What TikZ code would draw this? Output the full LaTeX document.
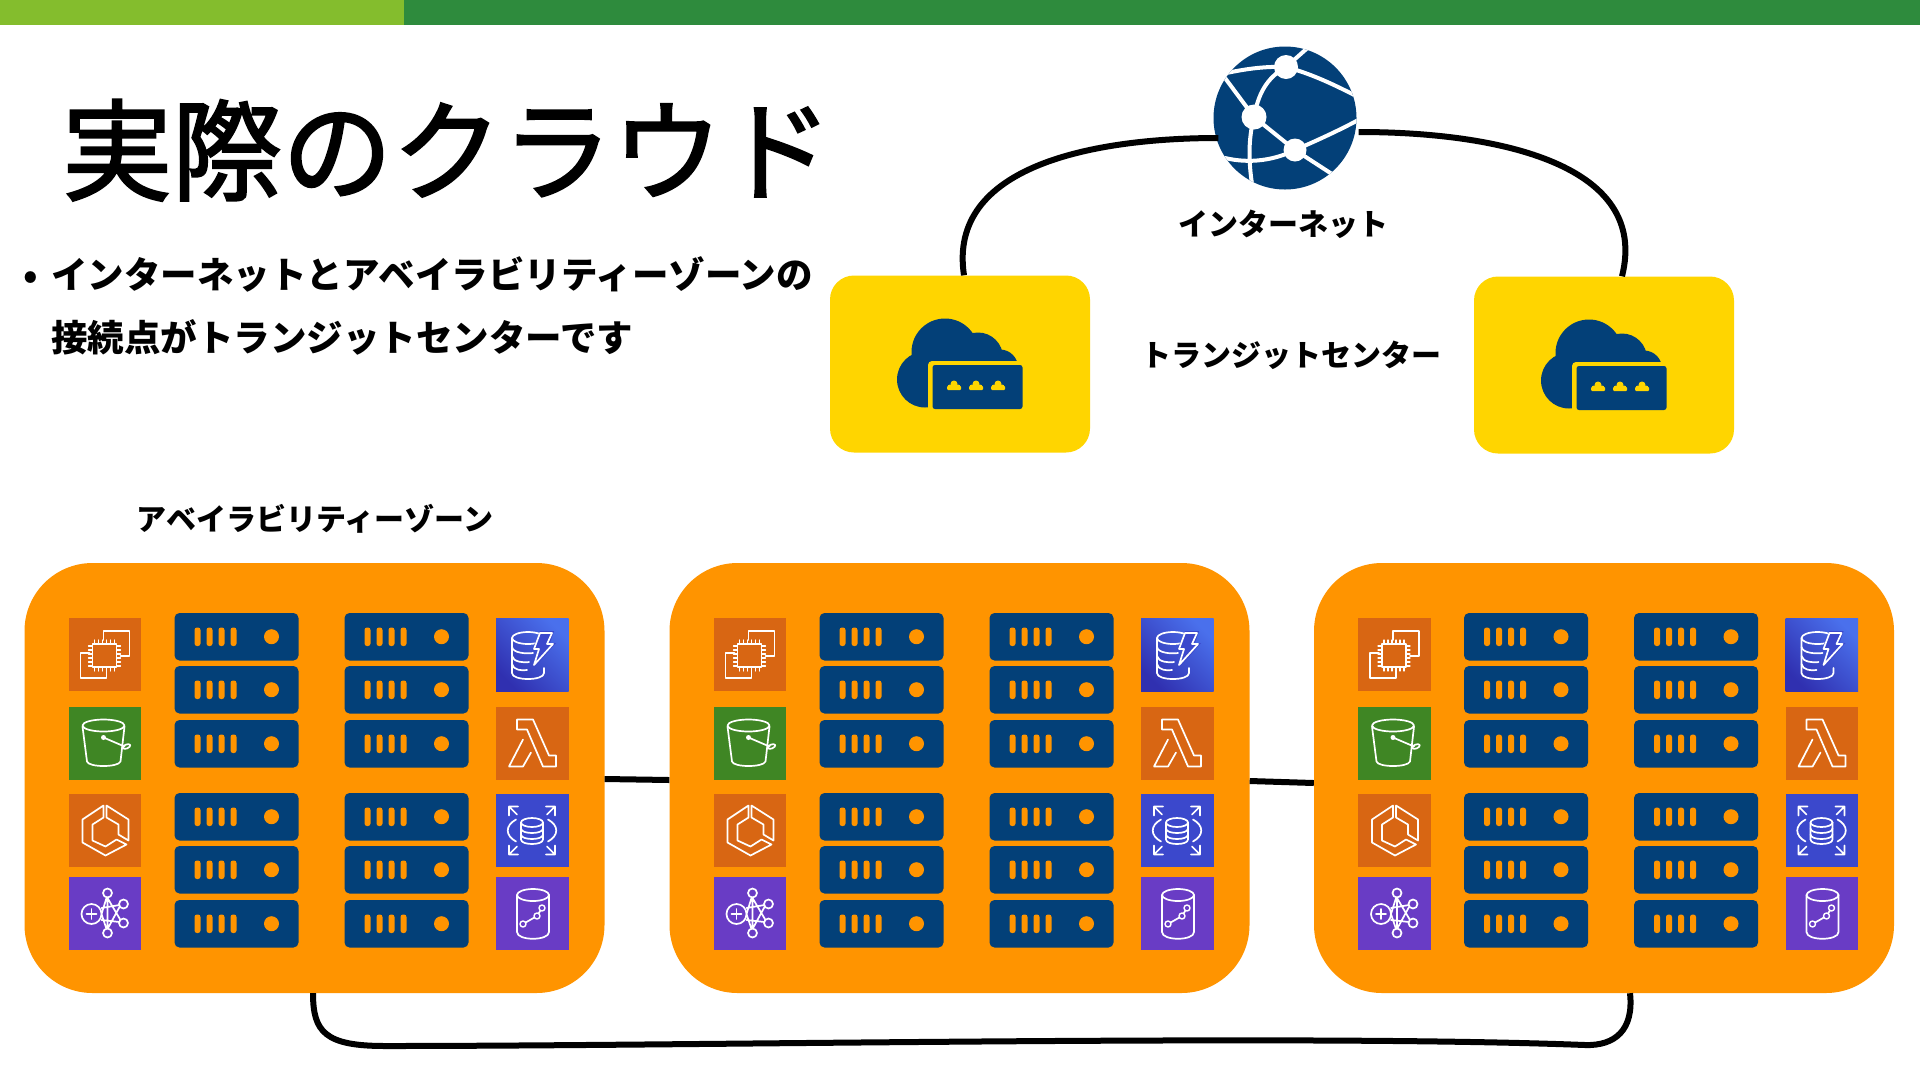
\documentclass[tikz,border=0pt]{standalone}
\usepackage{fontspec}
\usetikzlibrary{calc}
\newfontfamily\jp{Noto Sans CJK JP}
\newfontfamily\jptitle{Noto Sans CJK JP}[FakeBold=2]
\definecolor{navy}{HTML}{034078}
\definecolor{zonecol}{HTML}{FF9400}
\definecolor{goldcol}{HTML}{FFD500}
\definecolor{limebar}{HTML}{84BD2D}
\definecolor{greenbar}{HTML}{2E8B3D}
\definecolor{awsorange}{HTML}{D86613}
\definecolor{awsgreen}{HTML}{3F8624}
\definecolor{awspurple}{HTML}{693CC5}
\definecolor{awsblue}{HTML}{3B48CC}
\definecolor{dynlo}{HTML}{3030B0}
\definecolor{dynhi}{HTML}{4A70EC}
\tikzset{
  wire/.style={draw=black,line width=6pt,line cap=butt},
  zonebox/.style={fill=zonecol,draw=none,rounded corners=68pt,minimum width=580pt,minimum height=430pt,inner sep=0pt},
  tcbox/.style={fill=goldcol,draw=none,rounded corners=24pt,minimum width=260pt,minimum height=177pt,inner sep=0pt},
  lbl/.style={anchor=base,inner sep=0pt,font=\jp\bfseries\fontsize{30pt}{30pt}\selectfont},
  ic/.style={draw=white,line width=1.7pt,line join=round,line cap=round,fill=none},
  pics/srv/.style={code={
    \fill[navy,rounded corners=5pt] (0,0) rectangle (124,47.5);
    \foreach \bx in {23,35,47,59}{\fill[zonecol,rounded corners=2.5pt] (\bx-3,14.5) rectangle (\bx+3,33);}
    \fill[zonecol] (97,23.7) circle (7.5pt);
  }},
  pics/ectwo/.style={code={
    \fill[awsorange] (0,0) rectangle (72.5,73);
    \draw[ic] (35,22)--(35,13)--(61,13)--(61,38)--(52,38);
    \draw[ic] (21,35)--(12,35)--(12,60)--(38,60)--(38,52);
    \draw[ic] (24,26) rectangle (48,49);
    \foreach \t in {0,...,5}{
      \draw[ic,line width=1.2pt] (26+\t*4,22)--(26+\t*4,26);
      \draw[ic,line width=1.2pt] (26+\t*4,49)--(26+\t*4,53);
      \draw[ic,line width=1.2pt] (20,28+\t*4)--(24,28+\t*4);
      \draw[ic,line width=1.2pt] (48,28+\t*4)--(52,28+\t*4);
    }
  }},
  pics/sthree/.style={code={
    \fill[awsgreen] (0,0) rectangle (72.5,73);
    \draw[ic] (35,19) ellipse (21pt and 6pt);
    \draw[ic] (14,20)--(18.5,55) .. controls (20,61) and (50,61) .. (52,55)--(56,20);
    \draw[ic] (35,31)--(56,40);
    \fill[white] (35,31) circle (2.5pt);
    \draw[ic,rotate around={22:(58,40)}] (58,40) ellipse (4pt and 2pt);
  }},
  pics/ecs/.style={code={
    \fill[awsorange] (0,0) rectangle (72.5,73);
    \draw[ic] (35,12)--(14,26)--(14,49)--(37,62)--(58,51)--(48,46)--(37,53)--(24,47)--(24,31)--(35,24)--cycle;
    \draw[ic] (38,12)--(60,26)--(60,47)--(50,41)--(50,31)--(38,24)--cycle;
  }},
  pics/graphic/.style={code={
    \fill[awspurple] (0,0) rectangle (72.5,73);
    \draw[ic] (33,37)--(38,21) (33,37)--(38,52) (39,21)--(52,43) (39,52)--(51,30) (33,31)--(51,28) (33,43)--(51,45) (39,21)--(39,52);
    \fill[awspurple] (23,37) circle (10pt);
    \draw[ic] (23,37) circle (10pt);
    \draw[ic] (18,37)--(28,37) (23,32)--(23,42);
    \foreach \cc in {(39,16),(55,27),(55,46),(39,56)}{
      \fill[awspurple] \cc circle (4.5pt);
      \draw[ic] \cc circle (4.5pt);
    }
  }},
  pics/dynamo/.style={code={
    \shade[shading=axis,bottom color=dynlo,top color=dynhi,shading angle=-45] (0,0) rectangle (72.5,73);
    \draw[ic] (32,20) ellipse (16pt and 6pt);
    \draw[ic] (16,20)--(16,55) .. controls (16,63) and (48,63) .. (48,55)--(48,50);
    \draw[ic] (16,29) .. controls (17,35) and (30,36) .. (37,35);
    \draw[ic] (16,38) .. controls (17,44) and (28,45) .. (33,44);
    \draw[ic] (16,46) .. controls (17,52) and (26,53) .. (31,52);
    \fill[awsblue] (44,13)--(58,13)--(54,25)--(60,25)--(37,51)--(42,32)--(36,32)--cycle;
    \draw[ic] (44,15)--(56,15)--(51,26)--(57,26)--(38,47)--(43,31)--(38,31)--cycle;
  }},
  pics/lambdaic/.style={code={
    \fill[awsorange] (0,0) rectangle (72.5,73);
    \draw[ic] (21,13)--(37,13)--(53,49)--(60,49)--(60,60)--(47,60)--(31,23)--(21,23)--cycle;
    \draw[ic] (27,33)--(13,60)--(27,60)--(35,46);
  }},
  pics/rdsic/.style={code={
    \fill[awsblue] (0,0) rectangle (72.5,73);
    \draw[ic] (36,29) ellipse (11pt and 4.5pt);
    \draw[ic] (25,29)--(25,46) .. controls (25,52) and (47,52) .. (47,46)--(47,29);
    \draw[ic] (25,35) .. controls (25,41) and (47,41) .. (47,35);
    \draw[ic] (25,41) .. controls (25,47) and (47,47) .. (47,41);
    \draw[ic] (20,26) .. controls (9,32) and (9,42) .. (20,48);
    \draw[ic] (52,26) .. controls (63,32) and (63,42) .. (52,48);
    \foreach \sx/\sy in {1/1,-1/1,1/-1,-1/-1}{
      \begin{scope}[shift={(36,37)},xscale=\sx,yscale=\sy]
        \draw[ic] (-23,-15)--(-23,-24)--(-14,-24) (-23,-24)--(-15,-16);
      \end{scope}
    }
  }},
  pics/tsdb/.style={code={
    \fill[awspurple] (0,0) rectangle (72.5,73);
    \draw[ic] (37,18) ellipse (16pt and 6pt);
    \draw[ic] (21,18)--(21,55) .. controls (21,64) and (53,64) .. (53,55)--(53,18);
    \draw[ic] (27,47)--(41,39)--(46,31);
    \foreach \cc in {(27,47),(41,39),(46,31)}{
      \fill[awspurple] \cc circle (3pt);
      \draw[ic,line width=1.4pt] \cc circle (3pt);
    }
  }},
  pics/zoneinner/.style={code={
    \pic at (44,55) {ectwo};
    \pic at (44,143.5) {sthree};
    \pic at (44,230.5) {ecs};
    \pic at (44,314) {graphic};
    \pic at (471.5,55) {dynamo};
    \pic at (471.5,143.5) {lambdaic};
    \pic at (471.5,230.5) {rdsic};
    \pic at (471.5,314) {tsdb};
    \foreach \sx in {150,320}{
      \foreach \sy in {50,103,157,230,283,337}{
        \pic at (\sx,\sy) {srv};
      }
    }
  }},
  pics/vpnic/.style={code={
    \fill[navy] (115,76.5) circle (33.5pt);
    \fill[navy] (95,104) circle (28pt);
    \fill[navy] (148,82) circle (25pt);
    \fill[navy] (170,92) circle (18pt);
    \fill[navy] (95,90) rectangle (188,110);
    \fill[goldcol,rounded corners=4pt] (98,85.5) rectangle (196,137);
    \fill[navy,rounded corners=2.5pt] (102.5,89.5) rectangle (192.5,133.5);
    \foreach \cx in {124,146,168}{
      \fill[goldcol,rounded corners=1pt] (\cx-7,114.5) rectangle (\cx+7,110.5);
      \fill[goldcol] (\cx,108.5) circle (3.5pt);
      \fill[goldcol] (\cx-4,111.5) circle (2.5pt);
      \fill[goldcol] (\cx+4,111.5) circle (2.5pt);
    }
  }},
}
\begin{document}
\begin{tikzpicture}[x=1pt,y=-1pt]
\useasboundingbox (0,0) rectangle (1920,1080);
\fill[white] (0,0) rectangle (1920,1080);
\fill[greenbar] (404,0) rectangle (1920,24.5);
\fill[limebar] (0,0) rectangle (404,24.5);

% title and text
\node[anchor=base west,inner sep=0pt,font=\jptitle\fontsize{110pt}{110pt}\selectfont] (title) at (62,192) {実際のクラウド};
\node[anchor=base west,inner sep=0pt,font=\jp\bfseries\fontsize{36.5pt}{36.5pt}\selectfont] (bul) at (23,288) {•};
\node[anchor=base west,inner sep=0pt,font=\jp\bfseries\fontsize{36.5pt}{36.5pt}\selectfont] (line1) at (51,288) {インターネットとアベイラビリティーゾーンの};
\node[anchor=base west,inner sep=0pt,font=\jp\bfseries\fontsize{36.5pt}{36.5pt}\selectfont] (line2) at (51,351) {接続点がトランジットセンターです};

% globe
\node[circle,fill=navy,minimum size=143pt,inner sep=0pt] (globe) at (1285,118) {};
\begin{scope}
  \clip (1285,118) circle (71.5pt);
  \draw[white,line width=4pt,line cap=round]
    (1286,67) .. controls (1266,78) and (1258,95) .. (1254,117)
    (1254,117) -- (1295,150)
    (1286,67) .. controls (1262,66) and (1240,70) .. (1222,74)
    (1286,67) .. controls (1312,74) and (1335,85) .. (1360,98)
    (1286,67) -- (1312,44)
    (1254,117) -- (1225,78)
    (1295,150) .. controls (1318,140) and (1340,130) .. (1362,118)
    (1295,150) -- (1335,176)
    (1295,150) .. controls (1275,160) and (1250,164) .. (1225,158)
    (1254,117) .. controls (1248,140) and (1248,165) .. (1254,195);
  \fill[white] (1286,67) circle (12pt) (1254,117) circle (12.5pt) (1295,150) circle (11.5pt);
\end{scope}

% transit centres
\node[tcbox] (tcA) at (960,364) {};
\node[tcbox] (tcB) at (1604,365) {};
\pic at (830,275.5) {vpnic};
\pic at (1474,276.5) {vpnic};

\draw[wire] ([shift={(5,20)}]globe.west) .. controls (1095,138) and (947,165) .. ([xshift=4pt]tcA.north);
\draw[wire] ([shift={(2,14)}]globe.east) .. controls (1500,132) and (1650,165) .. ([xshift=18pt]tcB.north);

\node[lbl] (netlbl) at (1283,235) {インターネット};
\node[lbl] (tclbl) at (1291,366) {トランジットセンター};
\node[lbl] (azlbl) at (315,530) {アベイラビリティーゾーン};

% zones
\node[zonebox] (zoneA) at (314.5,778) {};
\node[zonebox] (zoneB) at (959.5,778) {};
\node[zonebox] (zoneC) at (1604,778) {};
\pic at (24.5,563) {zoneinner};
\pic at (669.5,563) {zoneinner};
\pic at (1314,563) {zoneinner};

\draw[wire] ([yshift=-1pt]zoneA.east) -- ([yshift=-2pt]zoneB.west);
\draw[wire] ([yshift=-3pt]zoneB.east) -- ([yshift=-5pt]zoneC.west);
\draw[wire] ([xshift=-1.5pt]zoneA.south) .. controls (313,1032) and (325,1046) .. (385,1046)
  .. controls (700,1046) and (1300,1034) .. (1585,1045)
  .. controls (1615,1046) and (1634,1030) .. ([xshift=26pt]zoneC.south);
\end{tikzpicture}
\end{document}
